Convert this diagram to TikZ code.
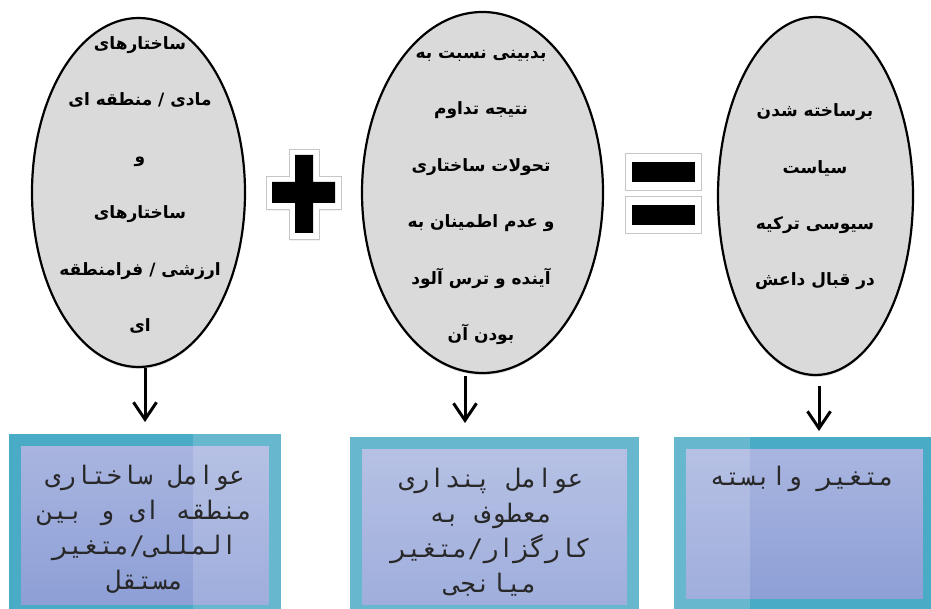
\documentclass[tikz,border=0pt]{standalone}
\usepackage{fontspec}
\usetikzlibrary{shapes.geometric,arrows.meta,shadows}
\TeXXeTstate=1
\newfontfamily\arfont[Script=Arabic]{DejaVu Sans}
\newfontfamily\armono[Script=Arabic]{DejaVu Sans Mono}
\definecolor{teal5}{RGB}{74,171,198}
\definecolor{lavtop}{RGB}{170,182,224}
\definecolor{lavbot}{RGB}{140,158,214}
\definecolor{ellfill}{RGB}{218,218,218}
\definecolor{boxtxt}{RGB}{40,40,40}
\begin{document}
\begin{tikzpicture}[x=1pt,y=-1pt,
  oval/.style={ellipse, draw=black, line width=2.2pt, fill=ellfill, inner sep=0pt,
    drop shadow={opacity=0.25,shadow xshift=0pt,shadow yshift=-2pt}},
  ovaltext/.style={font=\arfont\bfseries\fontsize{17}{56.4}\selectfont, align=center, text=black, inner sep=0pt},
  tealbox/.style={rectangle, draw=teal5, line width=12pt, top color=lavtop, bottom color=lavbot, inner sep=0pt},
  boxtext/.style={font=\armono\fontsize{25.5}{35}\selectfont, align=center, text=boxtxt, inner sep=0pt},
  arr/.style={-{Straight Barb[length=17pt,width=23pt]}, line width=3pt, black},
  signbox/.style={fill=white, draw=gray!45, line width=0.8pt,
    drop shadow={opacity=0.3,shadow xshift=0.5pt,shadow yshift=-1.5pt}},
]
\useasboundingbox (0,0) rectangle (931,609);
\fill[white] (0,0) rectangle (931,609);

% ellipses
\node[oval, minimum width=213pt, minimum height=349pt] (e1) at (138.5,192.5) {};
\node[oval, minimum width=241pt, minimum height=361pt] (e2) at (482.5,192.5) {};
\node[oval, minimum width=195pt, minimum height=358pt] (e3) at (815.5,196) {};

\node[ovaltext] (t1) at (140,185) {\beginR ساختارهای\endR\\\beginR مادی / منطقه ای\endR\\\beginR و\endR\\\beginR ساختارهای\endR\\\beginR ارزشی / فرامنطقه\endR\\\beginR ای\endR};
\node[ovaltext] (t2) at (481,197.5) {\beginR بدبینی نسبت به\endR\\\beginR نتیجه تداوم\endR\\\beginR تحولات ساختاری\endR\\\beginR و عدم اطمینان به\endR\\\beginR آینده و ترس آلود\endR\\\beginR بودن آن\endR};
\node[ovaltext] (t3) at (815,197) {\beginR برساخته شدن\endR\\\beginR سیاست\endR\\\beginR سیوسی ترکیه\endR\\\beginR در قبال داعش\endR};

% plus sign
\filldraw[signbox] (289,149) -- (319,149) -- (319,176) -- (341,176) -- (341,209) -- (319,209) -- (319,239) -- (289,239) -- (289,209) -- (266,209) -- (266,176) -- (289,176) -- cycle;
\fill[black] (295,155) -- (313,155) -- (313,182) -- (335,182) -- (335,203) -- (313,203) -- (313,233) -- (295,233) -- (295,203) -- (272,203) -- (272,182) -- (295,182) -- cycle;

% equals sign
\filldraw[signbox] (625,153) rectangle (701,190);
\fill[black] (632,162) rectangle (695,182);
\filldraw[signbox] (625,196) rectangle (701,233);
\fill[black] (632,205) rectangle (695,225);

% boxes
\node[tealbox, minimum width=260pt, minimum height=171pt] (b1) at (145,525.5) {};
\node[tealbox, minimum width=277pt, minimum height=168pt] (b2) at (494.5,527) {};
\node[tealbox, minimum width=249pt, minimum height=162pt] (b3) at (804.5,524) {};
\fill[white, opacity=0.16] (193,428) rectangle (750,609);

\node[boxtext] (bt1) at (145,529) {\beginR عوامل ساختاری\endR\\\beginR منطقه ای و بین\endR\\\beginR المللی/متغیر\endR\\\beginR مستقل\endR};
\node[boxtext] (bt2) at (491,532) {\beginR عوامل پنداری\endR\\\beginR معطوف به\endR\\\beginR کارگزار/متغیر\endR\\\beginR میانجی\endR};
\node[boxtext] (bt3) at (802,479) {\beginR متغیر وابسته\endR};

% arrows
\coordinate (s1) at ([xshift=6.5pt]e1.south);
\coordinate (d1) at ([yshift=12pt]b1.north);
\draw[arr] (s1) -- (s1 |- d1);
\coordinate (s2) at ([xshift=-17.5pt,yshift=-2pt]e2.south);
\coordinate (d2) at ([yshift=14pt]b2.north);
\draw[arr] (s2) -- (s2 |- d2);
\coordinate (s3) at ([xshift=3.5pt,yshift=-10pt]e3.south);
\coordinate (d3) at ([yshift=6pt]b3.north);
\draw[arr] (s3) -- (s3 |- d3);
\end{tikzpicture}
\end{document}
